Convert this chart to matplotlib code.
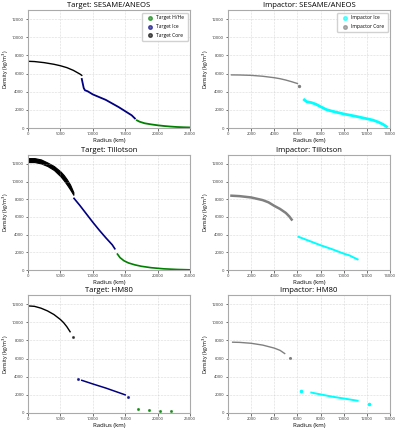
import matplotlib
matplotlib.use("Agg")
import matplotlib.pyplot as plt

plt.rcParams['font.family'] = ['Open Sans', 'DejaVu Sans']

# ---- Target SESAME/ANEOS ----
ses_t_core_r = [0, 1000, 2500, 4000, 5000, 6000, 6500, 7000, 7500, 8000, 8300]
ses_t_core_rho = [7350, 7320, 7200, 7020, 6860, 6650, 6500, 6350, 6150, 5950, 5800]
ses_t_ice_r = [8300, 8450, 8600, 8800, 9200, 10000, 11000, 12000, 13000, 14000, 15000, 16000, 16500]
ses_t_ice_rho = [5400, 4900, 4400, 4150, 4050, 3700, 3400, 3100, 2700, 2300, 1850, 1400, 1050]
ses_t_hhe_r = [16800, 17200, 18000, 19000, 20000, 21000, 22000, 23000, 24000, 25000]
ses_t_hhe_rho = [850, 700, 520, 400, 300, 220, 160, 110, 80, 60]

# ---- Impactor SESAME/ANEOS ----
ses_i_core_r = [300, 1000, 2000, 3000, 4000, 4500, 5000, 5500, 6000]
ses_i_core_rho = [5850, 5840, 5800, 5700, 5540, 5430, 5280, 5100, 4900]
ses_i_core_dot_r = [6100]
ses_i_core_dot_rho = [4600]
ses_i_ice_r = [6600, 6800, 7200, 7600, 8000, 8500, 9000, 10000, 11000, 12000, 12500, 13000, 13400, 13700]
ses_i_ice_rho = [3100, 2900, 2800, 2620, 2350, 2030, 1850, 1550, 1300, 1020, 880, 650, 400, 150]

# ---- Target Tillotson ----
til_t_core_r = [0, 1000, 2000, 3000, 4000, 5000, 5500, 6000, 6500, 7000]
til_t_core_hi = [12650, 12650, 12500, 12150, 11750, 11150, 10750, 10250, 9650, 8800]
til_t_core_lo = [12200, 12200, 12050, 11750, 11300, 10600, 10150, 9650, 9100, 8500]
til_t_ice_r = [7100, 8000, 9000, 10000, 11000, 12000, 13000, 13400]
til_t_ice_rho = [8100, 7300, 6350, 5400, 4500, 3650, 2850, 2400]
til_t_hhe_r = [13800, 14200, 14800, 15500, 16500, 17500, 19000, 21000, 23000, 25000]
til_t_hhe_rho = [1800, 1400, 1050, 800, 580, 420, 260, 130, 60, 20]

# ---- Impactor Tillotson ----
til_i_core_r = [300, 1000, 2000, 3000, 3500, 4000, 4500, 5000, 5300, 5500]
til_i_core_rho = [8400, 8350, 8200, 7900, 7650, 7250, 6900, 6450, 6050, 5700]
til_i_ice_r = [6100, 7000, 8000, 9000, 10000, 10500, 10800, 11200]
til_i_ice_rho = [3750, 3300, 2800, 2350, 1850, 1650, 1450, 1200]

# ---- Target HM80 ----
hm_t_core_r = [0, 1000, 2000, 3000, 4000, 5000, 5500, 6000, 6500]
hm_t_core_rho = [11800, 11750, 11550, 11250, 10850, 10300, 9950, 9500, 8950]
hm_t_core_dot_r = [7000]
hm_t_core_dot_rho = [8400]
hm_t_ice_r = [8300, 10000, 12000, 14000, 15000]
hm_t_ice_rho = [3600, 3200, 2750, 2250, 2000]
hm_t_ice_dot_r = [7700, 15500]
hm_t_ice_dot_rho = [3750, 1750]
hm_t_hhe_r = [17000, 18700, 20300, 22000]
hm_t_hhe_rho = [450, 350, 270, 170]

# ---- Impactor HM80 ----
hm_i_core_r = [400, 1000, 2000, 3000, 4000, 4500, 4900]
hm_i_core_rho = [7800, 7780, 7680, 7480, 7150, 6900, 6550]
hm_i_core_dot_r = [5400]
hm_i_core_dot_rho = [6100]
hm_i_ice_r = [7200, 8000, 9000, 10000, 11200]
hm_i_ice_rho = [2250, 2050, 1800, 1600, 1350]
hm_i_ice_dot_r = [6300, 12200]
hm_i_ice_dot_rho = [2400, 1000]

c_core = 'black'
c_ice = 'navy'
c_hhe = 'green'
c_icore = 'gray'
c_iice = 'cyan'

fig = plt.figure(figsize=(4, 4.3), dpi=100)
W, H = 400.0, 430.0
rows = [(10, 128), (155, 270), (295, 413)]
cols = [(28, 190), (228, 390)]
axes = []
for (top, bot) in rows:
    r = []
    for (l, rr) in cols:
        ax = fig.add_axes([l / W, 1 - bot / H, (rr - l) / W, (bot - top) / H])
        r.append(ax)
    axes.append(r)


def style(ax, title, xmax, xstep):
    ax.set_xlim(0, xmax)
    ax.set_ylim(0, 13000)
    ax.set_xticks(range(0, xmax + 1, xstep))
    ax.set_yticks(range(0, 12001, 2000))
    ax.set_title(title, fontsize=5.5, pad=2.5)
    ax.set_xlabel('Radius (km)', fontsize=4.3, labelpad=1)
    ax.set_ylabel('Density (kg/m$^3$)', fontsize=3.8, labelpad=1)
    ax.tick_params(labelsize=3.0, length=1.8, width=0.5, pad=1.2, colors='#333333')
    ax.grid(True, linestyle=':', linewidth=0.4, color='#bbbbbb')
    for s in ax.spines.values():
        s.set_color('#aaaaaa')
        s.set_linewidth(0.8)


# Target SESAME
ax = axes[0][0]
ax.plot(ses_t_hhe_r, ses_t_hhe_rho, color=c_hhe, lw=1.3)
ax.plot(ses_t_ice_r, ses_t_ice_rho, color=c_ice, lw=1.3)
ax.plot(ses_t_core_r, ses_t_core_rho, color=c_core, lw=1.0)
ax.scatter([], [], color=c_hhe, alpha=0.6, s=7, label='Target H/He')
ax.scatter([], [], color=c_ice, alpha=0.6, s=7, label='Target Ice')
ax.scatter([], [], color=c_core, alpha=0.6, s=7, label='Target Core')
ax.legend(fontsize=3.6, loc='upper right', handletextpad=0.3, borderpad=0.6, labelspacing=0.7, framealpha=0.9)
style(ax, 'Target: SESAME/ANEOS', 25000, 5000)

# Impactor SESAME
ax = axes[0][1]
ax.plot(ses_i_ice_r, ses_i_ice_rho, color=c_iice, lw=2.0)
ax.plot(ses_i_core_r, ses_i_core_rho, color=c_icore, lw=1.0)
ax.scatter(ses_i_core_dot_r, ses_i_core_dot_rho, color=c_icore, s=2)
ax.scatter([], [], color=c_iice, alpha=0.6, s=7, label='Impactor Ice')
ax.scatter([], [], color=c_icore, alpha=0.6, s=7, label='Impactor Core')
ax.legend(fontsize=3.6, loc='upper right', handletextpad=0.3, borderpad=0.6, labelspacing=0.7, framealpha=0.9)
style(ax, 'Impactor: SESAME/ANEOS', 14000, 2000)

# Target Tillotson
ax = axes[1][0]
ax.fill_between(til_t_core_r, til_t_core_lo, til_t_core_hi, color=c_core, lw=0.8, edgecolor=c_core)
ax.plot(til_t_ice_r, til_t_ice_rho, color=c_ice, lw=1.2)
ax.plot(til_t_hhe_r, til_t_hhe_rho, color=c_hhe, lw=1.2)
style(ax, 'Target: Tillotson', 25000, 5000)

# Impactor Tillotson
ax = axes[1][1]
ax.plot(til_i_core_r, til_i_core_rho, color=c_icore, lw=1.8)
ax.plot(til_i_ice_r, til_i_ice_rho, color=c_iice, lw=1.4)
style(ax, 'Impactor: Tillotson', 14000, 2000)

# Target HM80
ax = axes[2][0]
ax.plot(hm_t_core_r, hm_t_core_rho, color=c_core, lw=1.0)
ax.scatter(hm_t_core_dot_r, hm_t_core_dot_rho, color=c_core, s=1.5, alpha=0.6)
ax.plot(hm_t_ice_r, hm_t_ice_rho, color=c_ice, lw=1.1)
ax.scatter(hm_t_ice_dot_r, hm_t_ice_dot_rho, color=c_ice, s=1.5, alpha=0.7)
ax.scatter(hm_t_hhe_r, hm_t_hhe_rho, color=c_hhe, s=1.5, alpha=0.7)
style(ax, 'Target: HM80', 25000, 5000)

# Impactor HM80
ax = axes[2][1]
ax.plot(hm_i_core_r, hm_i_core_rho, color=c_icore, lw=1.0)
ax.scatter(hm_i_core_dot_r, hm_i_core_dot_rho, color=c_icore, s=1.5)
ax.plot(hm_i_ice_r, hm_i_ice_rho, color=c_iice, lw=1.4)
ax.scatter(hm_i_ice_dot_r, hm_i_ice_dot_rho, color=c_iice, s=2.5)
style(ax, 'Impactor: HM80', 14000, 2000)

fig.savefig('out.png', dpi=100)
